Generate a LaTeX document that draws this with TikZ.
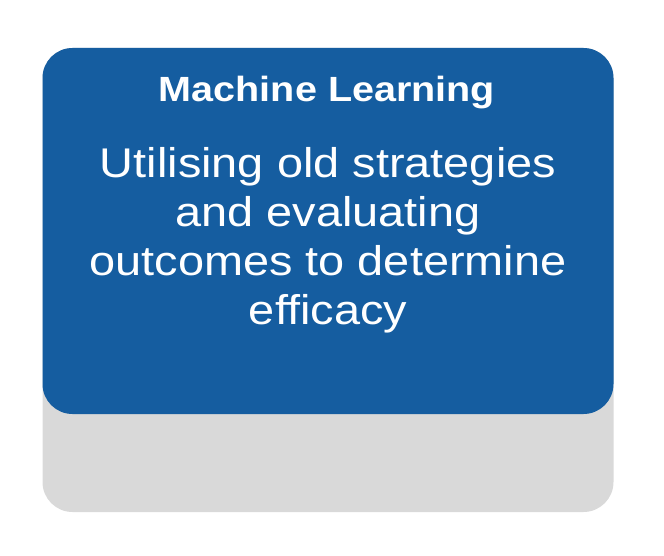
\documentclass[tikz,border=0pt]{standalone}
\usepackage{fontspec}
\setmainfont{Liberation Sans}
\newfontfamily\widesans[FakeStretch=1.13]{Liberation Sans}
\definecolor{boxblue}{HTML}{155DA0}
\definecolor{boxgray}{HTML}{D9D9D9}
\begin{document}
\begin{tikzpicture}[x=1pt,y=1pt,
  panel/.style={rounded corners=30pt},
  titletext/.style={text=white,font=\widesans\fontsize{35}{42}\selectfont\bfseries,inner sep=0pt},
  bodytext/.style={text=white,font=\widesans\fontsize{41.5}{49}\selectfont,align=center,inner sep=0pt}]
\useasboundingbox (0,0) rectangle (664,-556);
\fill[boxgray,panel] (42.5,-48) rectangle (613.5,-512);
\fill[boxblue,panel] (42.5,-48) rectangle (613.5,-414);
\node[titletext,anchor=base] (title) at (327,-102) {Machine Learning};
\node[bodytext,anchor=base] (body) at (328,-324.7) {Utilising old strategies\\and evaluating\\outcomes to determine\\efficacy};
\end{tikzpicture}
\end{document}
